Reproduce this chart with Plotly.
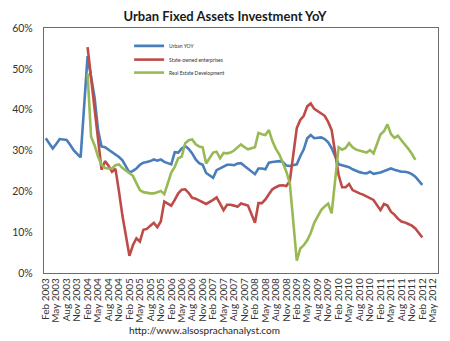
import plotly.graph_objects as go

# Monthly categories, Feb 2003 .. Jun 2012 (ticks every quarter)
MONTHS = ["Jan", "Feb", "Mar", "Apr", "May", "Jun", "Jul", "Aug", "Sep", "Oct", "Nov", "Dec"]
categories = [f"{MONTHS[(1 + k) % 12]} {2003 + (1 + k) // 12}" for k in range(113)]
tick_labels = categories[::3]

y_ticks = [0, 10, 20, 30, 40, 50, 60]
y_tick_labels = ["0%", "10%", "20%", "30%", "40%", "50%", "60%"]

# Year-to-date growth, %, one value per month (January is not reported)
urban_yoy = [
    33.0, 31.7, 30.5, 31.6, 32.8, 32.7, 32.6, 31.4, 30.1, 29.2, 28.3,              # 2003
    None, 53.1, 48.0, 43.0, 35.0, 31.0, 30.8, 30.2, 29.7, 29.0, 28.4, 27.6,        # 2004
    None, 24.6, 25.0, 25.6, 26.5, 27.0, 27.2, 27.4, 27.8, 27.5, 27.8, 27.2,        # 2005
    None, 26.6, 29.6, 29.5, 30.5, 31.1, 30.4, 29.3, 27.8, 26.9, 26.5, 24.5,        # 2006
    None, 23.3, 25.2, 25.6, 25.9, 26.5, 26.5, 26.4, 26.8, 26.9, 26.2, 25.6,        # 2007
    None, 24.2, 25.6, 25.6, 25.4, 27.0, 27.2, 27.3, 27.4, 27.2, 26.3, 26.2,        # 2008
    None, 26.6, 28.6, 30.3, 33.0, 33.8, 33.0, 33.1, 33.2, 32.8, 32.0, 30.6,        # 2009
    None, 26.6, 26.4, 26.1, 25.9, 25.4, 25.0, 24.7, 24.5, 24.4, 24.8, 24.3,        # 2010
    None, 24.6, 24.9, 25.3, 25.6, 25.3, 25.0, 24.8, 24.8, 24.6, 24.2, 23.6,        # 2011
    None, 21.6,                                                                    # 2012
]

state_owned = [None] * 11 + [
    None, 55.3, 47.5, 40.5, 33.0, 25.3, 27.4, 26.3, 24.8, 25.5, 20.0, 14.0,        # 2004
    None, 4.2, 6.8, 8.5, 7.7, 10.6, 10.8, 11.6, 12.3, 11.2, 12.6, 17.5,            # 2005
    None, 16.5, 17.9, 19.5, 20.4, 20.5, 19.6, 18.4, 18.2, 17.8, 17.4, 16.9,        # 2006
    None, 17.9, 18.5, 17.0, 15.4, 16.7, 16.7, 16.5, 16.2, 17.0, 16.8, 16.5,        # 2007
    None, 12.3, 17.1, 17.1, 18.0, 19.3, 20.5, 21.0, 21.4, 21.5, 21.3, 22.5,        # 2008
    None, 35.5, 37.5, 38.5, 40.8, 41.5, 40.2, 39.7, 39.0, 38.5, 37.0, 35.0,        # 2009
    None, 24.0, 21.0, 21.0, 21.8, 20.3, 19.8, 19.5, 19.2, 18.7, 18.2, 17.9,        # 2010
    None, 15.4, 16.9, 16.5, 15.0, 14.3, 13.3, 12.6, 12.4, 12.0, 11.6, 10.9,        # 2011
    None, 8.7,                                                                     # 2012
]

real_estate = [None] * 11 + [
    None, 48.9, 33.4, 31.3, 28.5, 26.5, 25.7, 25.6, 25.6, 26.4, 26.6, 25.7,        # 2004
    None, 24.5, 23.8, 22.0, 20.3, 19.8, 19.6, 19.5, 19.5, 19.9, 20.1, 19.3,        # 2005
    None, 24.6, 26.0, 28.1, 28.5, 31.8, 32.5, 32.7, 31.5, 31.0, 30.8, 26.8,        # 2006
    None, 29.5, 29.7, 28.1, 29.4, 29.3, 29.5, 30.0, 30.8, 31.5, 30.8, 30.3,        # 2007
    None, 30.8, 34.3, 34.0, 33.8, 35.0, 32.3, 30.4, 29.0, 27.0, 24.8, 22.0,        # 2008
    None, 3.0, 6.0, 6.8, 8.0, 9.8, 12.3, 14.0, 15.4, 16.3, 17.0, 14.6,             # 2009
    None, 30.8, 30.2, 30.6, 31.8, 30.8, 30.2, 30.0, 29.8, 29.5, 30.1, 29.3,        # 2010
    None, 33.9, 34.7, 36.4, 34.0, 33.1, 33.6, 32.5, 31.5, 30.4, 29.2, 27.7,        # 2011
]

series = [
    ("Urban YOY", urban_yoy, "#4A7EBB", "legend"),
    ("State-owned enterprises", state_owned, "#BE4B48", "legend2"),
    ("Real Estate Development", real_estate, "#98B954", "legend3"),
]

fig = go.Figure()
for name, values, color, legend_id in series:
    fig.add_trace(go.Scatter(
        x=categories[:len(values)],
        y=values,
        name=name,
        mode="lines",
        connectgaps=True,
        line=dict(color=color, width=2.6),
        legend=legend_id,
    ))

FONT = "Lato, 'Open Sans', sans-serif"


def legend_box(y):
    # one small legend per series, stacked tightly inside the plot area
    return dict(
        x=0.216, y=y, xanchor="left", yanchor="middle",
        bgcolor="rgba(0,0,0,0)",
        font=dict(size=5, family=FONT, color="#333333"),
    )


fig.update_layout(
    width=450,
    height=341,
    margin=dict(l=44, r=12, t=28, b=68),
    paper_bgcolor="white",
    plot_bgcolor="white",
    font=dict(family=FONT, color="#262626"),
    title=dict(
        text="<b>Urban Fixed Assets Investment YoY</b>",
        x=0.5, xanchor="center",
        y=1 - 16 / 341, yanchor="middle",
        font=dict(size=13, family=FONT, color="#1a1a1a"),
    ),
    showlegend=True,
    legend=legend_box(0.927),
    legend2=legend_box(0.871),
    legend3=legend_box(0.818),
    xaxis=dict(
        type="category",
        categoryorder="array",
        categoryarray=categories,
        range=[-0.5, len(categories) - 0.5],
        tickmode="array",
        tickvals=tick_labels,
        ticktext=tick_labels,
        tickangle=-90,
        tickfont=dict(size=10, family=FONT, color="#333333"),
        ticks="",
        showgrid=False,
        zeroline=False,
        showline=True,
        mirror=True,
        linecolor="#6b6b6b",
        linewidth=1.3,
    ),
    yaxis=dict(
        range=[0, 60],
        tickmode="array",
        tickvals=y_ticks,
        ticktext=y_tick_labels,
        tickfont=dict(size=10.5, family=FONT, color="#333333"),
        ticks="",
        ticklabelstandoff=8,
        showgrid=False,
        zeroline=False,
        showline=True,
        mirror=True,
        linecolor="#6b6b6b",
        linewidth=1.3,
    ),
    annotations=[dict(
        text="http://www.alsosprachanalyst.com",
        xref="paper", yref="paper",
        x=(204 - 44) / 394, y=-(330 - 273) / 245,
        xanchor="center", yanchor="middle",
        showarrow=False,
        font=dict(size=10, family=FONT, color="#262626"),
    )],
)

fig.write_html("out.html")
